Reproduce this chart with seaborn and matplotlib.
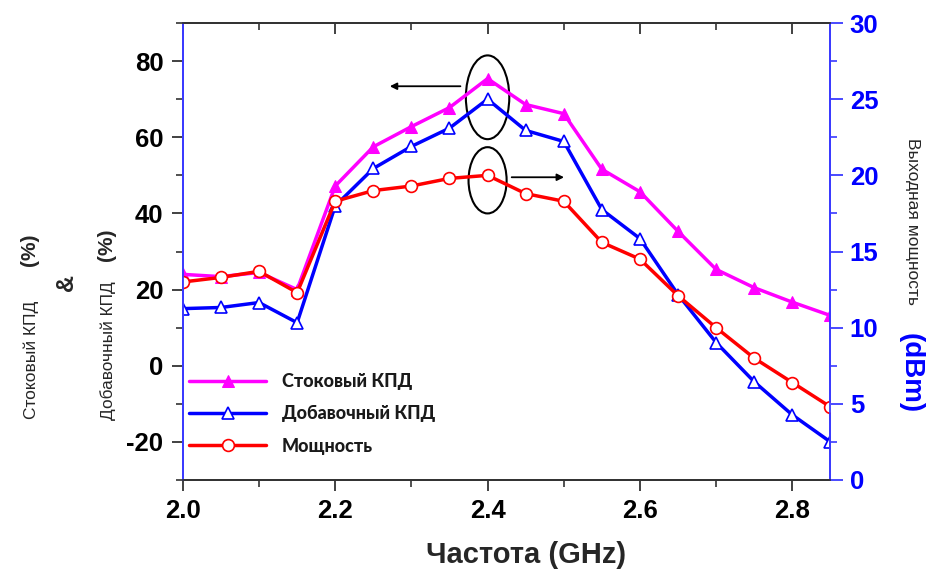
import matplotlib
matplotlib.use("Agg")
import matplotlib.pyplot as plt
from matplotlib.patches import Ellipse
from matplotlib.ticker import MultipleLocator
import numpy as np
import pandas as pd
import seaborn as sns

# Frequency points (GHz)
freq = [2.00, 2.05, 2.10, 2.15, 2.20, 2.25, 2.30, 2.35, 2.40,
        2.45, 2.50, 2.55, 2.60, 2.65, 2.70, 2.75, 2.80, 2.85]

# Drain efficiency (%), left axis
drain_eff = [24.0, 23.4, 24.5, 20.0, 47.2, 57.5, 62.8, 67.8, 75.4,
             68.6, 66.2, 51.6, 45.7, 35.3, 25.3, 20.5, 16.7, 13.2]

# Power added efficiency (%), left axis
pae = [15.0, 15.3, 16.6, 11.3, 42.0, 51.8, 57.6, 62.4, 70.0,
       61.8, 58.9, 41.0, 33.4, 18.7, 6.1, -4.2, -12.9, -20.0]

# Output power (dBm), right axis
pout = [13.0, 13.3, 13.7, 12.3, 18.3, 19.0, 19.3, 19.8, 20.0,
        18.8, 18.3, 15.6, 14.5, 12.1, 10.0, 8.0, 6.4, 4.8]

labels = ["Стоковый КПД", "Добавочный КПД", "Мощность"]

df = pd.DataFrame({"freq": freq, "drain": drain_eff, "pae": pae, "pout": pout})

sns.set_style("ticks")
plt.rcParams['font.family'] = ['Liberation Sans', 'DejaVu Sans']
plt.rcParams['axes.unicode_minus'] = False

magenta = "#ff00ff"
blue = "#0000ff"
red = "#ff0000"
axblue = "#3a3aff"
TICK_FS = 18.5

fig = plt.figure(figsize=(9.33, 5.76), dpi=100)
ax = fig.add_axes([0.196, 0.1667, 0.694, 0.7933])
ax2 = ax.twinx()

sns.lineplot(data=df, x="freq", y="drain", ax=ax, color=magenta, lw=2.5,
             marker="^", markersize=8.5, markeredgecolor=magenta, markerfacecolor=magenta,
             label=labels[0], legend=False)
sns.lineplot(data=df, x="freq", y="pae", ax=ax, color=blue, lw=2.5,
             marker="^", markersize=8.5, markeredgecolor=blue, markerfacecolor="white",
             markeredgewidth=1.2, label=labels[1], legend=False)
sns.lineplot(data=df, x="freq", y="pout", ax=ax2, color=red, lw=2.5,
             marker="o", markersize=8.5, markeredgecolor=red, markerfacecolor="white",
             markeredgewidth=1.2, label=labels[2], legend=False)

ax.set_xlim(2.0, 2.85)
ax.set_ylim(-30, 90)
ax2.set_ylim(0, 30)

ax.set_xticks([2.0, 2.2, 2.4, 2.6, 2.8])
ax.set_xticklabels(["2.0", "2.2", "2.4", "2.6", "2.8"])
ax.xaxis.set_minor_locator(MultipleLocator(0.1))
ax.set_yticks([-20, 0, 20, 40, 60, 80])
ax.yaxis.set_minor_locator(MultipleLocator(10))
ax2.set_yticks([0, 5, 10, 15, 20, 25, 30])
ax2.yaxis.set_minor_locator(MultipleLocator(2.5))

# bottom ticks outward, top ticks inward (no labels)
ax.tick_params(axis="x", which="major", direction="out", length=8, width=1.3,
               labelsize=TICK_FS, pad=6, colors="#333333", labelcolor="black")
ax.tick_params(axis="x", which="minor", direction="out", length=5, width=1.2,
               colors="#333333")
top = ax.secondary_xaxis("top")
top.set_xticks([2.0, 2.2, 2.4, 2.6, 2.8])
top.xaxis.set_minor_locator(MultipleLocator(0.1))
top.tick_params(axis="x", which="major", direction="in", length=8, width=1.3,
                labeltop=False, colors="#333333")
top.tick_params(axis="x", which="minor", direction="in", length=5, width=1.2,
                colors="#333333")
top.spines["top"].set_visible(False)

ax.tick_params(axis="y", which="major", direction="out", length=8, width=1.3,
               labelsize=TICK_FS, colors="#333333", labelcolor="black", pad=6)
ax.tick_params(axis="y", which="minor", direction="out", length=5, width=1.2,
               colors="#333333")
ax2.tick_params(axis="y", which="major", direction="out", length=9, width=1.3,
                labelsize=TICK_FS, colors=axblue, labelcolor=blue, pad=5)
ax2.tick_params(axis="y", which="minor", direction="out", length=5, width=1.2,
                colors=axblue)
for lab in ax.get_xticklabels() + ax.get_yticklabels() + ax2.get_yticklabels():
    lab.set_fontweight("bold")

ax.set_xlabel("")
ax.set_ylabel("")
ax2.set_ylabel("")

for a in (ax, ax2):
    for s in a.spines.values():
        s.set_linewidth(1.3)
        s.set_visible(True)
    a.spines["top"].set_color("#333333")
    a.spines["bottom"].set_color("#333333")
    a.spines["left"].set_color(axblue)
    a.spines["right"].set_color(axblue)

# Ellipses and arrows around the 2.4 GHz peak
ax.add_patch(Ellipse((2.4, 70.5), 0.057, 22, fill=False, edgecolor="black", lw=1.5))
ax.add_patch(Ellipse((2.4, 48.7), 0.050, 17.4, fill=False, edgecolor="black", lw=1.5))
ax.annotate("", xy=(2.268, 73.4), xytext=(2.368, 73.4),
            arrowprops=dict(arrowstyle="-|>", color="black", lw=1.3, mutation_scale=10))
ax.annotate("", xy=(2.504, 49.5), xytext=(2.428, 49.5),
            arrowprops=dict(arrowstyle="-|>", color="black", lw=1.3, mutation_scale=10))

# Legend
h1, l1 = ax.get_legend_handles_labels()
h2, l2 = ax2.get_legend_handles_labels()
leg = ax2.legend(h1 + h2, l1 + l2, loc="lower left", bbox_to_anchor=(-0.016, 0.02),
                 frameon=False, handlelength=4.3, handletextpad=0.85, labelspacing=0.85,
                 prop={"family": ["Lato", "DejaVu Sans"], "weight": "black", "size": 13})
for t in leg.get_texts():
    t.set_color("#1a1a1a")

# Axis titles
fig.text(0.564, 0.037, "Частота (GHz)", ha="center", va="center",
         fontsize=21, fontweight="bold")

# left label, three columns
fig.text(0.034, 0.375, "Стоковый КПД", rotation=90, ha="center", va="center", fontsize=12.5)
fig.text(0.032, 0.566, "(%)", rotation=90, ha="center", va="center",
         fontsize=15, fontweight="bold")
fig.text(0.071, 0.51, "&", rotation=90, ha="center", va="center",
         fontsize=17, fontweight="bold")
fig.text(0.116, 0.392, "Добавочный КПД", rotation=90, ha="center", va="center", fontsize=12.4)
fig.text(0.114, 0.575, "(%)", rotation=90, ha="center", va="center",
         fontsize=15, fontweight="bold")

# right label
fig.text(0.978, 0.616, "Выходная мощность", rotation=270, ha="center", va="center",
         fontsize=12.5)
fig.text(0.976, 0.352, "(dBm)", rotation=270, ha="center", va="center",
         fontsize=20, fontweight="bold", color=blue)

fig.savefig("out.png", dpi=100)
